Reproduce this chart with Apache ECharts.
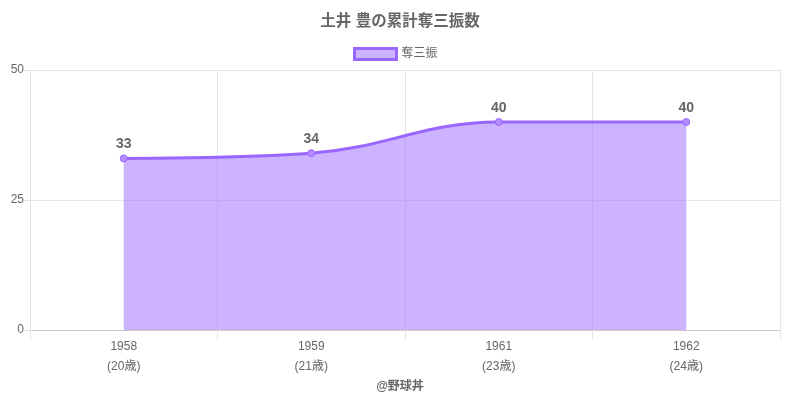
<!DOCTYPE html>
<html>
<head>
<meta charset="utf-8">
<script src="https://cdn.jsdelivr.net/npm/echarts@6/dist/echarts.min.js"></script>
<style>
  html, body { margin: 0; padding: 0; background: #fff; }
  #chart { width: 800px; height: 400px; }
</style>
</head>
<body>
<div id="chart"></div>
<script>
const years = ['1958', '1959', '1961', '1962']
const ages = ['20歳', '21歳', '23歳', '24歳']
const strikeouts = [33, 34, 40, 40]
const yTicks = [0, 25, 50]

const font = '"Liberation Sans", "Noto Sans CJK JP", sans-serif'
const chart = echarts.init(document.getElementById('chart'))

chart.setOption({
  animation: false,
  textStyle: { fontFamily: font },
  title: [{
    text: '土井 豊の累計奪三振数',
    left: 'center',
    top: 9,
    textStyle: { fontSize: 15.5, fontWeight: 'bold', color: '#666', fontFamily: font }
  }, {
    text: '@野球丼',
    left: 'center',
    top: 376,
    textStyle: { fontSize: 12, fontWeight: 'bold', color: '#666', fontFamily: font }
  }],
  legend: {
    top: 47,
    left: 353,
    padding: 0,
    itemWidth: 42,
    itemHeight: 11,
    itemGap: 6,
    icon: 'rect',
    textStyle: { fontSize: 12, color: '#666', fontFamily: font },
    data: [{
      name: '奪三振',
      itemStyle: { color: '#ccb3ff', borderColor: '#9966ff', borderWidth: 3 }
    }]
  },
  grid: { left: 30, right: 20, top: 70, bottom: 70, containLabel: false },
  xAxis: {
    type: 'category',
    data: years.map((y, i) => y + '\n(' + ages[i] + ')'),
    boundaryGap: true,
    axisLine: { lineStyle: { color: '#c8c8c8' } },
    axisTick: { show: true, length: 10, lineStyle: { color: '#e6e6e6' } },
    axisLabel: { color: '#666', fontSize: 12, lineHeight: 20, margin: 7, fontFamily: font },
    splitLine: { show: true, lineStyle: { color: '#e6e6e6' } }
  },
  yAxis: {
    type: 'value',
    min: yTicks[0],
    max: yTicks[yTicks.length - 1],
    interval: 25,
    axisLine: { show: true, lineStyle: { color: '#e0e0e0' } },
    axisTick: { show: true, length: 6, lineStyle: { color: '#e0e0e0' } },
    axisLabel: { color: '#666', fontSize: 12, margin: 6, fontFamily: font },
    splitLine: { lineStyle: { color: '#e6e6e6' } }
  },
  series: [{
    name: '奪三振',
    type: 'line',
    data: strikeouts,
    smooth: 0.4,
    symbol: 'circle',
    symbolSize: 7,
    itemStyle: { color: '#b38cff', borderColor: '#9966ff', borderWidth: 1 },
    lineStyle: { color: '#9966ff', width: 3 },
    areaStyle: { color: 'rgba(153,102,255,0.5)', opacity: 1, origin: 'start' },
    label: {
      show: true,
      position: 'top',
      distance: 3,
      color: '#666',
      fontSize: 14,
      fontWeight: 'bold',
      fontFamily: font
    }
  }]
})
</script>
</body>
</html>
